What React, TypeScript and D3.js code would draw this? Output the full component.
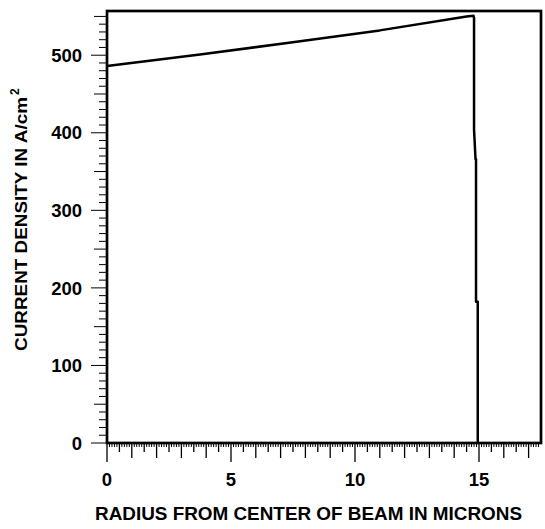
import React from "react";
import * as d3 from "d3";

const radius = [0, 3.75, 7.34, 11, 14.5, 14.78, 14.8, 14.8, 14.86, 14.88, 14.88, 14.95, 14.95];
const density = [486, 501, 516, 532, 550, 551, 548, 404, 366, 366, 182, 182, 0];
const xTicks = [0, 5, 10, 15];
const yTicks = [0, 100, 200, 300, 400, 500];
const xDomain = [0, 17.5];
const yDomain = [0, 557];

const W = 545, H = 529;
const M = { left: 107, right: 541, top: 11, bottom: 443 };
const FONT = "'Liberation Sans', Arial, sans-serif";

export default function App() {
  const x = d3.scaleLinear().domain(xDomain).range([M.left, M.right]);
  const y = d3.scaleLinear().domain(yDomain).range([M.bottom, M.top]);
  const pts = radius.map((r, i) => [r, density[i]] as [number, number]);
  const line = d3.line<[number, number]>().x(d => x(d[0])).y(d => y(d[1]));

  const xMinor = d3.range(0, 175).map(i => i / 10);
  const yMinor = d3.range(0, 56).map(i => i * 10);

  return (
    <svg width={W} height={H} style={{ position: "absolute", left: 0, top: 0, background: "#fff" }}>
      {yMinor.map(v => {
        const len = v % 100 === 0 ? 16 : v % 50 === 0 ? 13 : 8;
        return <line key={"ym" + v} x1={M.left - len} x2={M.left} y1={y(v)} y2={y(v)} stroke="#000" strokeWidth={1} />;
      })}
      {xMinor.map((v, i) => {
        const len = i % 50 === 0 ? 19 : i % 10 === 0 ? 15 : i % 5 === 0 ? 9 : 4;
        return <line key={"xm" + i} x1={x(v)} x2={x(v)} y1={M.bottom} y2={M.bottom + len} stroke="#000" strokeWidth={i % 5 === 0 ? 1.3 : 1} />;
      })}
      <rect x={M.left} y={M.top} width={M.right - M.left} height={M.bottom - M.top} fill="none" stroke="#000" strokeWidth={2.7} />
      <path d={line(pts) || ""} fill="none" stroke="#000" strokeWidth={2.5} strokeLinejoin="round" />
      {yTicks.map(v => (
        <text key={"yl" + v} x={82} y={y(v)} dy="0.36em" textAnchor="end" fontFamily={FONT} fontWeight="bold" fontSize={18.5} fill="#000">{v}</text>
      ))}
      {xTicks.map(v => (
        <text key={"xl" + v} x={x(v)} y={486} textAnchor="middle" fontFamily={FONT} fontWeight="bold" fontSize={18.5} fill="#000">{v}</text>
      ))}
      <text x={95} y={520} fontFamily={FONT} fontWeight="bold" fontSize={19} textLength={427} lengthAdjust="spacingAndGlyphs" fill="#000">
        RADIUS FROM CENTER OF BEAM IN MICRONS
      </text>
      <g transform="translate(27,351) rotate(-90)">
        <text x={0} y={0} fontFamily={FONT} fontWeight="bold" fontSize={17} textLength={254} lengthAdjust="spacingAndGlyphs" fill="#000">
          CURRENT DENSITY IN A/cm
        </text>
        <text x={256} y={-8} fontFamily={FONT} fontWeight="bold" fontSize={12} fill="#000">2</text>
      </g>
    </svg>
  );
}
